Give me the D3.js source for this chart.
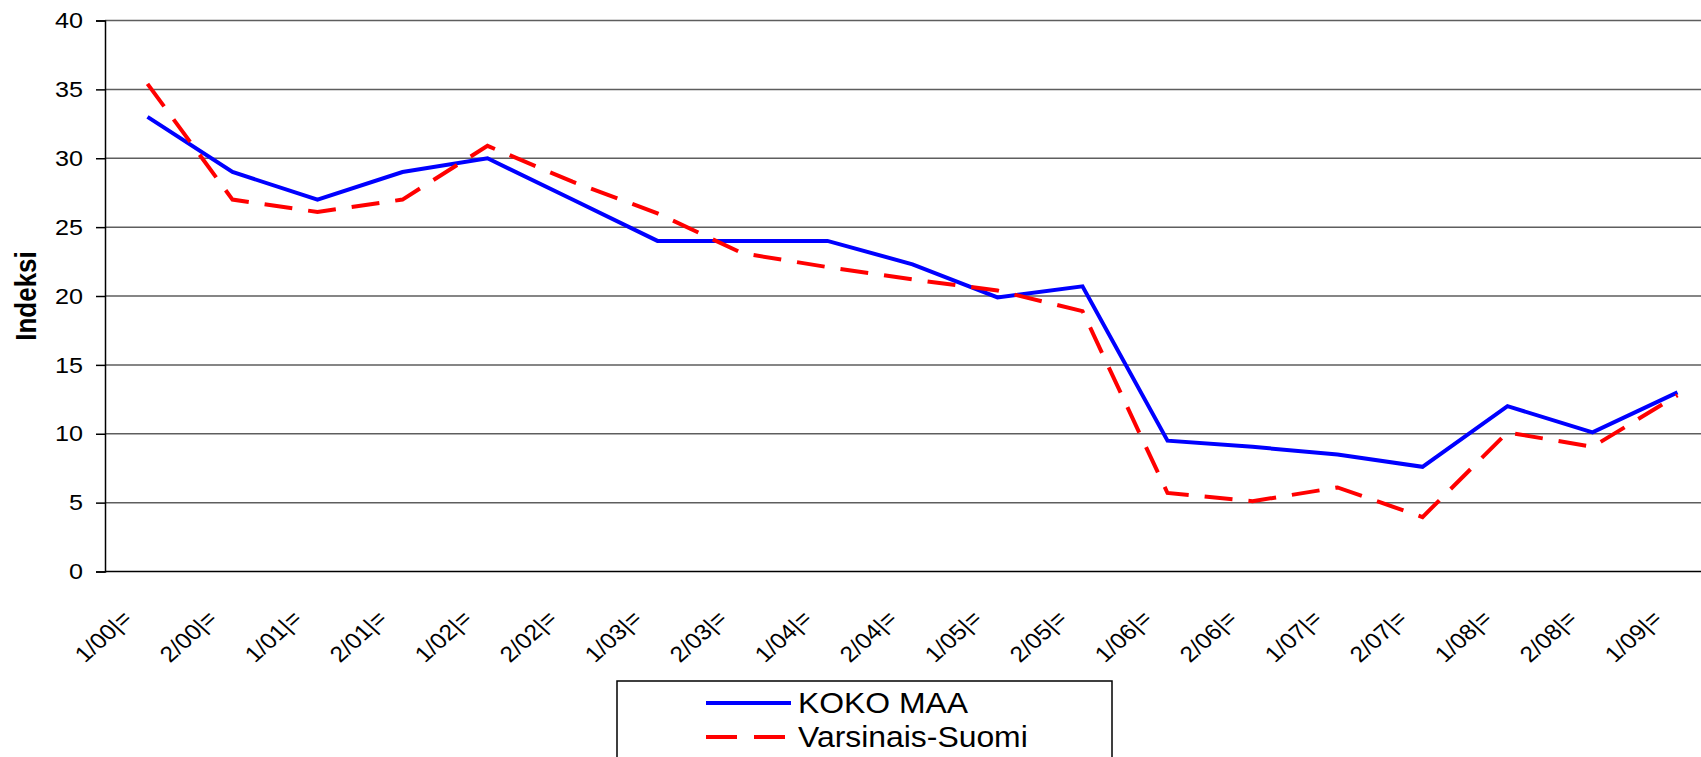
<!DOCTYPE html>
<html>
<head>
<meta charset="utf-8">
<script src="https://cdn.jsdelivr.net/npm/d3@7.9.0/dist/d3.min.js"></script>
<style>
  html, body { margin: 0; padding: 0; background: #fff; overflow: hidden; }
  svg { display: block; font-family: "Liberation Sans", Arial, sans-serif; }
</style>
</head>
<body>
<svg id="chart" width="1701" height="757"></svg>
<script>
// data
const periods = ['1/00|=', '2/00|=', '1/01|=', '2/01|=', '1/02|=', '2/02|=', '1/03|=', '2/03|=',
  '1/04|=', '2/04|=', '1/05|=', '2/05|=', '1/06|=', '2/06|=', '1/07|=', '2/07|=', '1/08|=', '2/08|=', '1/09|='];
const kokoMaa = [33, 29, 27, 29, 30, 27, 24, 24, 24, 22.3, 19.9, 20.7, 9.5, 9.05, 8.5, 7.6, 12, 10.1, 13];
const varsinaisSuomi = [35.4, 27, 26.1, 27, 30.9, 28.3, 26, 23.1, 22.1, 21.2, 20.4, 18.9, 5.7, 5.1, 6.1, 3.95, 10.1, 9.05, 12.8];
const yTicks = [0, 5, 10, 15, 20, 25, 30, 35, 40];
const seriesNames = ['KOKO MAA', 'Varsinais-Suomi'];

const svg = d3.select('#chart');

//plot area (runs past the right edge like the original)
const plotLeft = 105, plotTop = 20.5, plotBottom = 571.5, plotRight = 105 + 19 * 85;
//the original picture is a bit stretched sideways, text included
const stretch = 1.12;

const x = d3.scalePoint().domain(periods).range([plotLeft, plotRight]).padding(0.5);
const y = d3.scaleLinear().domain([0, 40]).range([plotBottom, plotTop]);

//gridlines
svg.append('g')
  .selectAll('line')
  .data(yTicks.filter(d => d > 0))
  .join('line')
  .attr('x1', plotLeft).attr('x2', plotRight)
  .attr('y1', d => y(d)).attr('y2', d => y(d))
  .attr('stroke', '#5e5e5e')
  .attr('stroke-width', 1.5);

//y axis
const yAxis = svg.append('g')
  .attr('transform', `translate(${plotLeft},0)`)
  .call(d3.axisLeft(y).tickValues(yTicks).tickSize(9).tickPadding(13));
yAxis.select('.domain').attr('stroke', '#000').attr('stroke-width', 1.5);
yAxis.selectAll('.tick line').attr('stroke', '#000').attr('stroke-width', 1.5);
yAxis.selectAll('.tick text')
  .attr('x', 0)
  .attr('transform', `translate(-22,0) scale(${stretch},1)`)
  .attr('font-size', 22.5)
  .attr('fill', '#000')
  .attr('font-family', '"Liberation Sans", Arial, sans-serif');

//x axis line
svg.append('line')
  .attr('x1', plotLeft).attr('x2', plotRight)
  .attr('y1', plotBottom).attr('y2', plotBottom)
  .attr('stroke', '#000').attr('stroke-width', 1.5);

//category labels, rotated
svg.append('g')
  .selectAll('text')
  .data(periods)
  .join('text')
  .attr('transform', d => `translate(${x(d) - 14},620) scale(${stretch},1) rotate(-45)`)
  .attr('text-anchor', 'end')
  .attr('font-size', 22)
  .attr('fill', '#000')
  .text(d => d);

//y axis title
svg.append('text')
  .attr('transform', `translate(36,296) scale(${stretch},1) rotate(-90)`)
  .attr('text-anchor', 'middle')
  .attr('font-size', 26)
  .attr('font-weight', 'bold')
  .text('Indeksi');

//lines
const line = d3.line()
  .x((d, i) => x(periods[i]))
  .y(d => y(d));

svg.append('path')
  .datum(kokoMaa)
  .attr('d', line)
  .attr('fill', 'none')
  .attr('stroke', '#0000ff')
  .attr('stroke-width', 4);

svg.append('path')
  .datum(varsinaisSuomi)
  .attr('d', line)
  .attr('fill', 'none')
  .attr('stroke', '#ff0000')
  .attr('stroke-width', 4)
  .attr('stroke-dasharray', '28,16');

//legend
const legend = svg.append('g');
legend.append('rect')
  .attr('x', 617).attr('y', 681)
  .attr('width', 495).attr('height', 100)
  .attr('fill', '#fff')
  .attr('stroke', '#000')
  .attr('stroke-width', 1.5);

const legendStyles = [
  { color: '#0000ff', dash: null },
  { color: '#ff0000', dash: '31,17' }
];
seriesNames.forEach((name, i) => {
  const ly = 703 + i * 34;
  legend.append('line')
    .attr('x1', 706).attr('x2', 791)
    .attr('y1', ly).attr('y2', ly)
    .attr('stroke', legendStyles[i].color)
    .attr('stroke-width', 4)
    .attr('stroke-dasharray', legendStyles[i].dash);
  legend.append('text')
    .attr('transform', `translate(798,${ly + 10}) scale(1.1,1)`)
    .attr('font-size', 29)
    .attr('fill', '#000')
    .text(name);
});
</script>
</body>
</html>
